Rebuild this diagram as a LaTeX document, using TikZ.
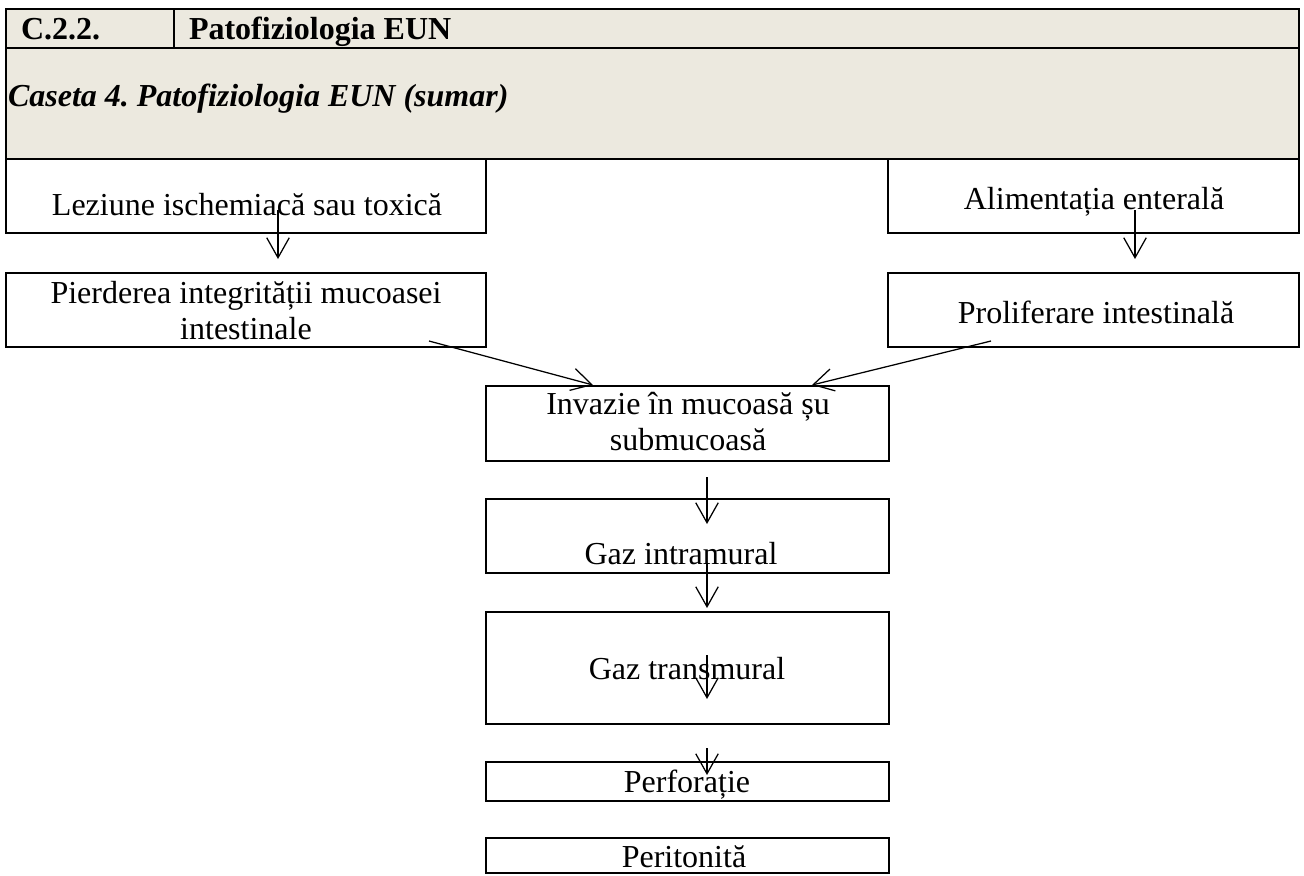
\documentclass[tikz,border=0pt]{standalone}
\usepackage{fontspec}
\setmainfont{Liberation Serif}
\newcommand*{\boxfont}{\fontsize{12.8}{14.4}\selectfont\frenchspacing}
\definecolor{header}{RGB}{236,233,223}
\definecolor{black}{RGB}{0,0,0}
\usetikzlibrary{arrows.meta}
\usetikzlibrary{fit}
\tikzstyle{base}=[x=0.4pt, y=-0.4pt, inner sep=0pt, outer sep=0pt]
\tikzstyle{box}=[draw=black, line width=0.8pt, inner sep=0pt, outer sep=0pt]
\tikzstyle{txt}=[anchor=base, align=center, inner sep=0pt]
\tikzstyle{flow}=[-{Straight Barb[length=8pt, width=9pt]}, line width=0.5pt]

\begin{document}
\begin{tikzpicture}[base]
    \boxfont
        \useasboundingbox (0,0) rectangle (1304,875);
        % header table
        \node [box, fill=header, fit={(6,9) (174,48)}] (code) {};
        \node [box, fill=header, fit={(174,9) (1299,48)}] (title) {};
        \node [box, fill=header, fit={(6,48) (1299,159)}] (caption) {};
        \node [txt, anchor=base west] (codeT) at (21,39) {\bfseries C.2.2.};
        \node [txt, anchor=base west] (titleT) at (189,39) {\bfseries Patofiziologia EUN};
        \node [txt, anchor=base west] (captionT) at (8,106) {\bfseries\itshape Caseta 4. Patofiziologia EUN (sumar)};
        % boxes
        \node [box, fit={(6,159) (486,233)}] (lez) {};
        \node [box, fit={(888,159) (1299,233)}] (ali) {};
        \node [box, fit={(6,273) (486,347)}] (pie) {};
        \node [box, fit={(888,273) (1299,347)}] (pro) {};
        \node [box, fit={(486,386) (889,461)}] (inv) {};
        \node [box, fit={(486,499) (889,573)}] (intra) {};
        \node [box, fit={(486,612) (889,724)}] (trans) {};
        \node [box, fit={(486,762) (889,801)}] (perf) {};
        \node [box, fit={(486,838) (889,873)}] (peri) {};
        % texts (two-line ones sit on their last line)
        \node [txt] (lezT) at (247,215) {Leziune ischemiacă sau toxică};
        \node [txt] (aliT) at (1094,209) {Alimentația enterală};
        \node [txt] (pieT) at (246,339) {Pierderea integrității mucoasei\\intestinale};
        \node [txt] (proT) at (1096,323) {Proliferare intestinală};
        \node [txt] (invT) at (688,450) {Invazie în mucoasă șu\\submucoasă};
        \node [txt] (intraT) at (681,564) {Gaz intramural};
        \node [txt] (transT) at (687,679) {Gaz transmural};
        \node [txt] (perfT) at (687,792) {Perforație};
        \node [txt] (periT) at (684,867) {Peritonită};
        % arrows
        \coordinate (lezS) at (278,210);
        \coordinate (lezE) at (278,259);
        \coordinate (aliS) at (1135,210);
        \coordinate (aliE) at (1135,259);
        \coordinate (pieS) at (429,341);
        \coordinate (invL) at (593,385);
        \coordinate (proS) at (991,341);
        \coordinate (invR) at (812,385);
        \coordinate (invS) at (707,477);
        \coordinate (intraE) at (707,524);
        \coordinate (intraS) at (707,563);
        \coordinate (transE) at (707,608);
        \coordinate (transS) at (707,655);
        \coordinate (transM) at (707,699);
        \coordinate (perfS) at (707,748);
        \coordinate (perfE) at (707,775);
        \draw [flow] (lezS) -- (lezE);
        \draw [flow] (aliS) -- (aliE);
        \draw [flow] (pieS) -- (invL);
        \draw [flow] (proS) -- (invR);
        \draw [flow] (invS) -- (intraE);
        \draw [flow] (intraS) -- (transE);
        \draw [flow] (transS) -- (transM);
        \draw [flow] (perfS) -- (perfE);
    \end{tikzpicture}
\end{document}
